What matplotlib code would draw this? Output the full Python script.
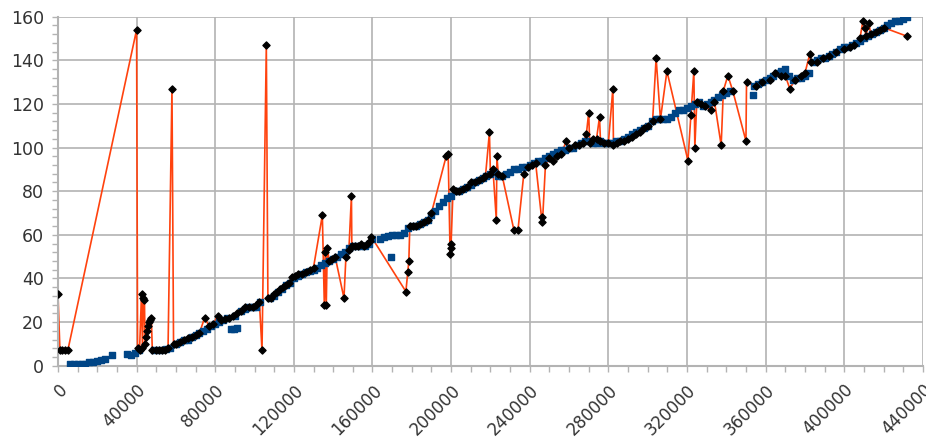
import matplotlib
matplotlib.use("Agg")
import matplotlib.pyplot as plt
from matplotlib.ticker import MultipleLocator

# main cluster of readings (blue squares)
trend_x = [6000, 8000, 10000, 12000, 14000, 16000, 18000, 20000, 22000, 24000,
           27500, 35000, 37000, 39000, 41000, 49000, 52000, 55000, 57000, 60000,
           62000, 64000, 66000, 68000, 70000, 72000, 74000, 76000, 78000, 80000,
           82000, 84000, 86000, 88000, 89500, 91000, 90000, 93000, 95000, 97000,
           99000, 101000, 103000, 108000, 110000, 112000, 114000, 116000, 118000, 120000,
           122000, 124000, 126000, 128000, 130000, 132000, 134000, 136000, 138000, 140000,
           142000, 144000, 146000, 148000, 150000, 152000, 154000, 156000, 158000, 160000,
           164000, 166000, 168000, 169500, 170000, 172000, 174000, 176000, 178000, 180000,
           182000, 184000, 186000, 188000, 190000, 192000, 194000, 196000, 198000, 200000,
           202000, 204000, 206000, 208000, 210000, 212000, 214000, 216000, 218000, 220000,
           222000, 224000, 226000, 228000, 230000, 232000, 234000, 236000, 238000, 240000,
           242000, 244000, 246000, 248000, 250000, 252000, 254000, 256000, 258000, 260000,
           262000, 264000, 266000, 268000, 270000, 272000, 274000, 276000, 278000, 280000,
           282000, 284000, 286000, 288000, 290000, 292000, 294000, 296000, 298000, 300000,
           302000, 304000, 306000, 308000, 310000, 312000, 314000, 316000, 318000, 320000,
           322000, 324000, 326000, 328000, 330000, 332000, 334000, 336000, 338000, 340000,
           342000, 353500, 354000, 356000, 358000, 360000, 362000, 364000, 366000, 368000,
           370000, 372000, 374000, 376000, 378000, 380000, 382000, 384000, 386000, 388000,
           390000, 392000, 394000, 396000, 398000, 400000, 402000, 404000, 406000, 408000,
           410000, 412000, 414000, 416000, 418000, 420000, 422000, 424000, 426000, 428000,
           430000, 432000]
trend_y = [1, 1, 1, 1, 1, 1.5, 1.5, 2, 2.5, 3,
           5, 5.5, 5, 6, 7, 7, 7, 7.5, 8, 10,
           11, 12, 12, 13, 14, 15, 16, 17, 18, 19,
           20, 21, 22, 17, 17, 17.5, 23, 25, 26, 27,
           27, 27, 29, 31, 32, 34, 35, 37, 38, 40,
           41, 42, 43, 43.5, 44, 45, 46, 47, 48, 49,
           50, 51, 52, 54, 55, 55, 55, 55, 56, 58,
           58, 59, 59.5, 50, 60, 60, 60, 61, 63, 64,
           64, 65, 66, 67, 69, 71, 73, 75, 77, 78,
           80, 80, 81, 82, 83, 84, 85, 86, 87, 88,
           89, 87, 87, 88, 89, 90, 90, 91, 91, 92,
           93, 94, 94, 95, 96, 97, 98, 99, 99, 100,
           100, 101, 102, 103, 103, 102, 102, 103, 102, 102,
           102, 103, 103, 104, 105, 106, 107, 108, 109, 110,
           112, 113, 113, 113, 113, 114, 116, 117, 117, 118,
           119, 120, 121, 119, 120, 121, 122, 123, 124, 125,
           126, 124, 128, 129, 130, 131, 132, 133, 134, 135,
           136, 133, 131, 132, 132, 133, 134, 139, 140, 141,
           141, 142, 143, 144, 145, 146, 146, 147, 148, 149,
           150, 151, 152, 153, 154, 155, 156, 157, 158, 158,
           159, 160]

# readings in recorded order (orange line, black markers)
line_x = [0, 1000, 2000, 3500, 5000, 40000, 40500, 41500, 42500, 43000,
          43500, 44000, 44300, 45000, 45500, 46000, 46500, 47000, 47500, 48000,
          50000, 51500, 53000, 54500, 56000, 58000, 58800, 60000, 62000, 64000,
          66000, 68000, 70000, 72000, 74600, 77000, 79000, 81300, 83000, 85000,
          87000, 89000, 91000, 93000, 95000, 97000, 99000, 101000, 102500, 103800,
          106000, 106800, 108500, 110000, 111500, 113000, 114500, 116000, 117500, 119000,
          120500, 122000, 124000, 126000, 128000, 130000, 134500, 135500, 136000, 136500,
          137000, 138000, 139500, 141000, 145500, 146500, 148000, 149300, 149500, 151000,
          152500, 154000, 155500, 157000, 158500, 159500, 177000, 178000, 178500, 179000,
          180500, 182000, 184000, 186000, 188000, 190000, 197500, 198500, 199500, 199800,
          200000, 201000, 202500, 204000, 206000, 208000, 210000, 212000, 214000, 216000,
          217500, 219500, 220000, 221300, 223000, 223300, 224000, 226000, 232000, 234000,
          237000, 239000, 241000, 243000, 246000, 246500, 248000, 250000, 252000, 254000,
          256000, 258600, 260000, 263000, 265000, 267000, 268800, 270000, 270500, 272000,
          274000, 275500, 276000, 278000, 280000, 282300, 282600, 284500, 286000, 288000,
          290000, 292000, 294000, 296000, 298000, 300000, 302500, 304300, 306500, 309800,
          320500, 322000, 323500, 324000, 325000, 327000, 329000, 332000, 334000, 337400,
          338500, 340800, 343300, 350000, 350300, 355000, 358000, 362000, 365000, 368000,
          370000, 372300, 375000, 378000, 380000, 382500, 383000, 386000, 389000, 392000,
          396000, 400000, 403000, 405000, 408000, 409500, 410500, 411000, 412500, 413500,
          416000, 418000, 420000, 432000]
line_y = [33, 7, 7, 7, 7, 154, 8, 7, 33, 8,
          31, 30, 10, 13, 16, 18, 20, 21, 22, 7,
          7, 7, 7, 7, 8, 127, 10, 10, 11, 12,
          12.5, 13, 14, 15, 22, 18, 19, 23, 21, 21.5,
          22, 23, 24, 25, 27, 27, 27, 28, 29, 7,
          147, 31, 31, 33, 34, 35, 36, 37, 38, 40.5,
          41, 42, 42, 43, 44, 45, 69, 28, 52, 28,
          54, 48, 49, 50, 31, 50, 53, 78, 55, 55,
          55, 56, 55, 56, 57, 59, 34, 43, 48, 64,
          64, 64, 65, 66, 67, 70, 96, 97, 51, 54,
          56, 81, 80, 80, 81, 82, 84, 84, 85, 86,
          87, 107, 88, 90, 67, 96, 88, 87, 62, 62,
          88, 91, 92, 93, 68, 66, 92, 95, 94, 96,
          97, 103, 100, 101, 101, 102, 106, 116, 102, 104,
          104, 114, 103, 102, 102, 127, 101, 102, 103, 103,
          104, 105, 106, 107, 109, 110, 112, 141, 113, 135,
          94, 115, 135, 100, 121, 120, 119, 117, 121, 101,
          126, 133, 126, 103, 130, 128, 130, 131, 134, 133,
          133, 127, 131, 133, 134, 143, 139, 139, 141, 142,
          144, 145, 146, 147, 150, 158, 155, 151, 157, 152,
          153, 154, 155, 151]

xticks = list(range(0, 440001, 40000))
yticks = list(range(0, 161, 20))

fig = plt.figure(figsize=(9.26, 4.38), dpi=100)
ax = fig.add_axes([0.0626, 0.165, 0.934, 0.797])

ax.plot(line_x, line_y, color="#ff420e", lw=1.2, zorder=2)
ax.scatter(trend_x, trend_y, marker="s", s=22, color="#004586", zorder=3)
ax.scatter(line_x, line_y, marker="D", s=13, color="black", zorder=4)

ax.set_xlim(0, 440000)
ax.set_ylim(0, 160)
ax.set_xticks(xticks)
ax.set_yticks(yticks)
ax.set_xticklabels([str(v) for v in xticks], rotation=45, ha="right",
                   va="top", rotation_mode="anchor")
ax.xaxis.set_minor_locator(MultipleLocator(10000))
ax.yaxis.set_minor_locator(MultipleLocator(4))

grid_color = "#b3b3b3"
ax.grid(True, which="major", color=grid_color, lw=1.2)
ax.set_axisbelow(True)
for side in ["top", "right"]:
    ax.spines[side].set_visible(False)
for side in ["left", "bottom"]:
    ax.spines[side].set_color(grid_color)
    ax.spines[side].set_linewidth(1.5)
ax.tick_params(which="both", direction="out", color=grid_color, length=4,
               width=1, labelsize=12, labelcolor="#333333")
ax.tick_params(axis="y", labelsize=12.5, pad=6)
ax.tick_params(axis="x", pad=7)

fig.savefig("out.png", dpi=100)
